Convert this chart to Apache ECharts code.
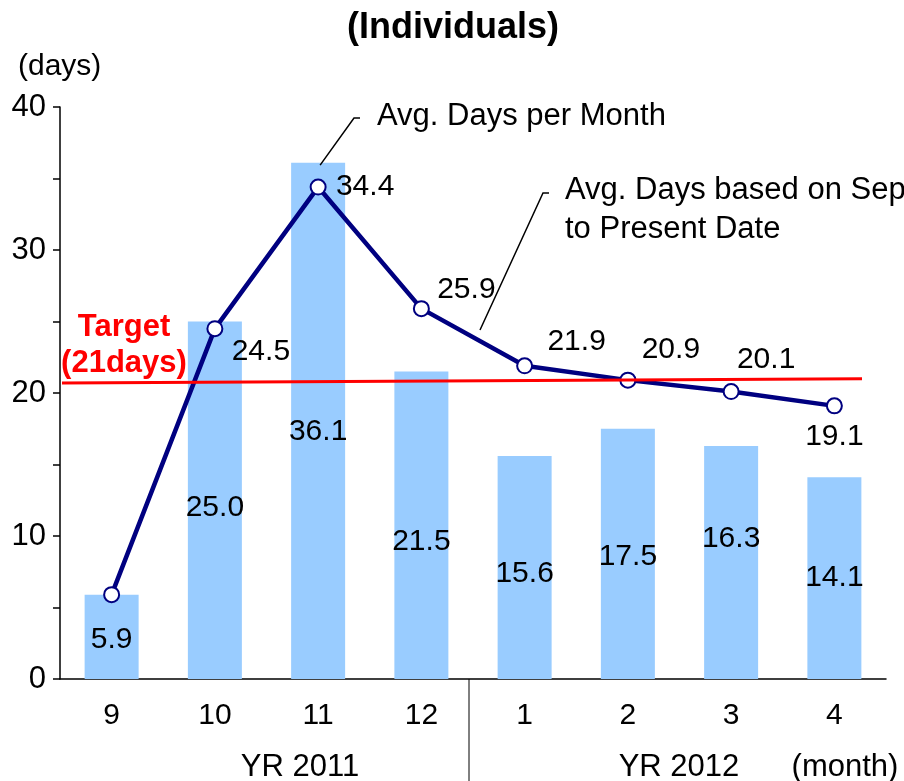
<!DOCTYPE html>
<html>
<head>
<meta charset="utf-8">
<script src="https://cdn.jsdelivr.net/npm/echarts@6/dist/echarts.min.js"></script>
<style>
  html, body { margin: 0; padding: 0; background: #fff; }
  #chart { width: 904px; height: 781px; }
</style>
</head>
<body>
<div id="chart"></div>
<script>
// 月份
const months = ['9', '10', '11', '12', '1', '2', '3', '4']
// 每月平均天数（柱）
const monthlyDays = [5.9, 25.0, 36.1, 21.5, 15.6, 17.5, 16.3, 14.1]
// 9月至今的平均天数（折线）
const cumulativeDays = [5.9, 24.5, 34.4, 25.9, 21.9, 20.9, 20.1, 19.1]
const yTicks = [0, 10, 20, 30, 40]
const target = 21

const FONT = 'Liberation Sans, Arial, sans-serif'
const chart = echarts.init(document.getElementById('chart'))

// 柱标签的微调（像素）
const barLabelOffsets = [[0, 3], [0, 7], [0, 11], [0, 16], [0, 6], [0, 3], [0, -24], [0, 0]]
// 折线标签的位置
const lineLabelOffsets = [[0, 0], [46, 23], [47, 0], [45, -19], [52, -24], [43, -30], [35, -32], [0, 31]]

const option = {
  animation: false,
  textStyle: { fontFamily: FONT },
  grid: { left: 60, right: 18, top: 107, bottom: 102 },
  xAxis: {
    type: 'category',
    data: months,
    axisLine: { lineStyle: { color: '#000', width: 1.5 } },
    axisTick: { show: false },
    axisLabel: { color: '#000', fontSize: 30, margin: 22, fontFamily: FONT }
  },
  yAxis: {
    type: 'value',
    min: 0,
    max: 40,
    interval: 10,
    splitLine: { show: false },
    axisLine: { show: true, lineStyle: { color: '#000', width: 1.5 } },
    axisTick: { show: true, length: 7, lineStyle: { color: '#000', width: 1.5 } },
    minorTick: { show: true, splitNumber: 2, length: 7, lineStyle: { color: '#000', width: 1.5 } },
    axisLabel: {
      color: '#000', fontSize: 31, margin: 14, fontFamily: FONT,
      formatter: v => (yTicks.includes(v) ? String(v) : '')
    }
  },
  series: [
    {
      type: 'bar',
      data: monthlyDays.map((v, i) => ({
        value: v,
        label: { offset: barLabelOffsets[i] }
      })),
      barWidth: 54,
      itemStyle: { color: '#99ccff' },
      label: {
        show: true,
        position: 'inside',
        color: '#000',
        fontSize: 30,
        fontFamily: FONT,
        formatter: p => p.value.toFixed(1)
      },
      z: 1
    },
    {
      type: 'line',
      data: cumulativeDays.map((v, i) => ({
        value: v,
        label: { offset: lineLabelOffsets[i], show: i !== 0 }
      })),
      symbol: 'circle',
      symbolSize: 15,
      lineStyle: { color: '#000080', width: 4.5 },
      itemStyle: { color: '#fff', borderColor: '#000080', borderWidth: 2 },
      label: {
        show: true,
        position: 'inside',
        color: '#000',
        fontSize: 30,
        fontFamily: FONT,
        formatter: p => p.value.toFixed(1)
      },
      z: 3
    }
  ]
}
chart.setOption(option)

// 目标线与注释
const px = (xi, y) => chart.convertToPixel({ xAxisIndex: 0, yAxisIndex: 0 }, [xi, y])
const yPx = v => chart.convertToPixel({ yAxisIndex: 0 }, v)
const p11 = px(2, cumulativeDays[2])
const base = yPx(0)
const txt = (x, y, text, extra) => ({
  type: 'text', x, y,
  style: Object.assign({ text, fill: '#000', font: '31px ' + FONT, textVerticalAlign: 'middle' }, extra || {}),
  z: 10
})

chart.setOption({
  graphic: [
    txt(453, 28, '(Individuals)', { font: 'bold 36px ' + FONT, textAlign: 'center' }),
    txt(18, 67, '(days)', { font: '30px ' + FONT }),
    // 目标线
    {
      type: 'line', z: 5,
      shape: { x1: 62, y1: yPx(20.7), x2: 862, y2: yPx(target) },
      style: { stroke: '#ff0000', lineWidth: 3 }
    },
    txt(124, 327, 'Target', { fill: '#ff0000', font: 'bold 31px ' + FONT, textAlign: 'center' }),
    txt(124, 363, '(21days)', { fill: '#ff0000', font: 'bold 31px ' + FONT, textAlign: 'center' }),
    // 注释
    {
      type: 'polyline', z: 5,
      shape: { points: [[p11[0] + 2, p11[1] - 22], [354, 118], [360, 118]] },
      style: { stroke: '#000', lineWidth: 1.5, fill: null }
    },
    txt(377, 116, 'Avg. Days per Month'),
    {
      type: 'polyline', z: 5,
      shape: { points: [[480, 330], [543, 193], [549, 193]] },
      style: { stroke: '#000', lineWidth: 1.5, fill: null }
    },
    txt(565, 190, 'Avg. Days based on Sep'),
    txt(565, 229, 'to Present Date'),
    // 年份分隔
    {
      type: 'line', z: 5,
      shape: { x1: 469, y1: base, x2: 469, y2: 781 },
      style: { stroke: '#000', lineWidth: 1 }
    },
    txt(300, 767, 'YR 2011', { textAlign: 'center' }),
    txt(679, 767, 'YR 2012', { textAlign: 'center' }),
    txt(845, 767, '(month)', { textAlign: 'center' })
  ]
})
</script>
</body>
</html>
